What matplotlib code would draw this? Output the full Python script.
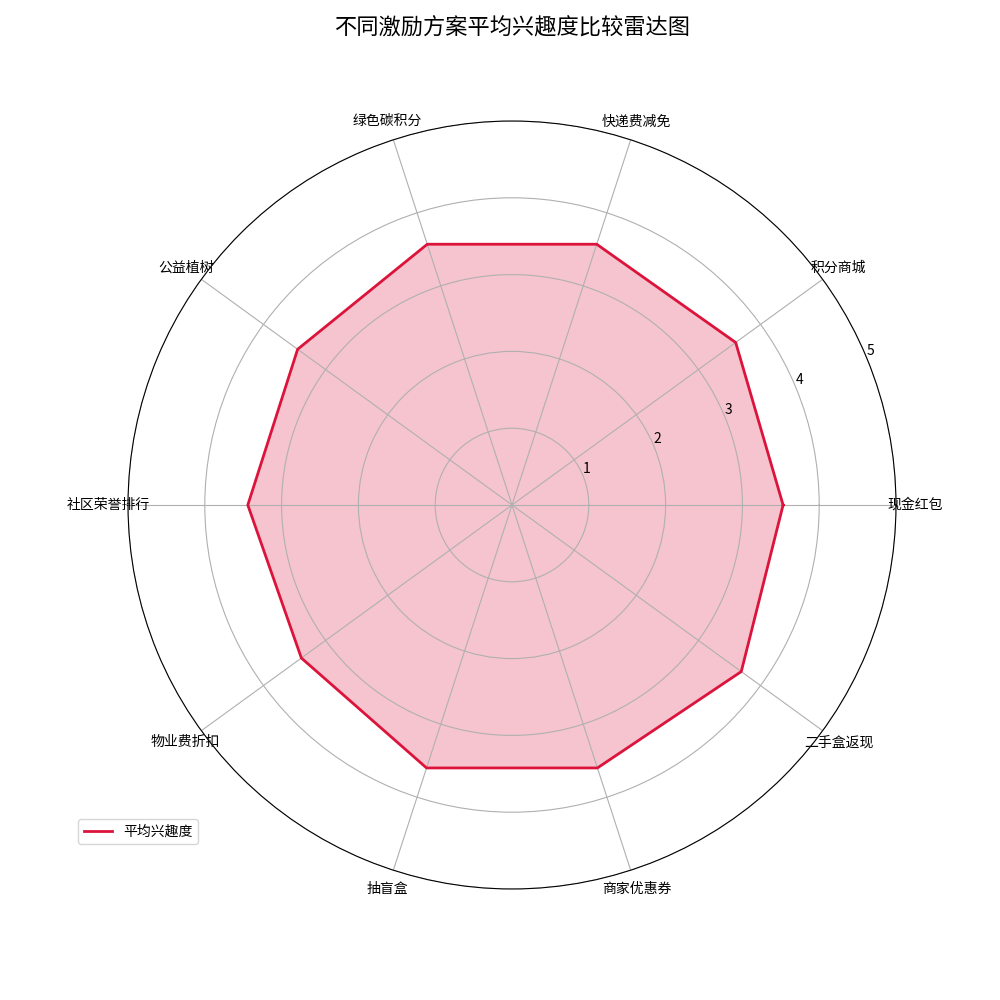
import numpy as np
import matplotlib
matplotlib.use("Agg")
import matplotlib.pyplot as plt

plt.rcParams['font.family'] = ['Noto Sans CJK SC', 'DejaVu Sans']

categories = ['现金红包', '积分商城', '快递费减免', '绿色碳积分', '公益植树',
              '社区荣誉排行', '物业费折扣', '抽盲盒', '商家优惠券', '二手盒返现']
values = [3.53, 3.6, 3.57, 3.57, 3.45, 3.44, 3.39, 3.6, 3.6, 3.69]
series_name = '平均兴趣度'

n = len(categories)
angles = np.linspace(0, 2 * np.pi, n, endpoint=False).tolist()
vals = values + values[:1]
angs = angles + angles[:1]

fig = plt.figure(figsize=(10, 10), dpi=100)
ax = fig.add_axes([0.128, 0.111, 0.768, 0.768], projection='polar')

ax.plot(angs, vals, color='#DC143C', linewidth=2, label=series_name)
ax.fill(angs, vals, color='#DC143C', alpha=0.25)

ax.set_xticks(angles)
ax.set_xticklabels(categories, fontsize=10)
ax.set_ylim(0, 5)
ax.set_yticks([1, 2, 3, 4, 5])
ax.set_yticklabels(['1', '2', '3', '4', '5'], fontsize=10)
ax.grid(True, color='#b0b0b0', linewidth=0.8)

ax.set_title('不同激励方案平均兴趣度比较雷达图', fontsize=16, pad=0, y=1.113)
ax.legend(loc='upper right', bbox_to_anchor=(0.1, 0.1), fontsize=10)

fig.savefig('out.png', dpi=100)
